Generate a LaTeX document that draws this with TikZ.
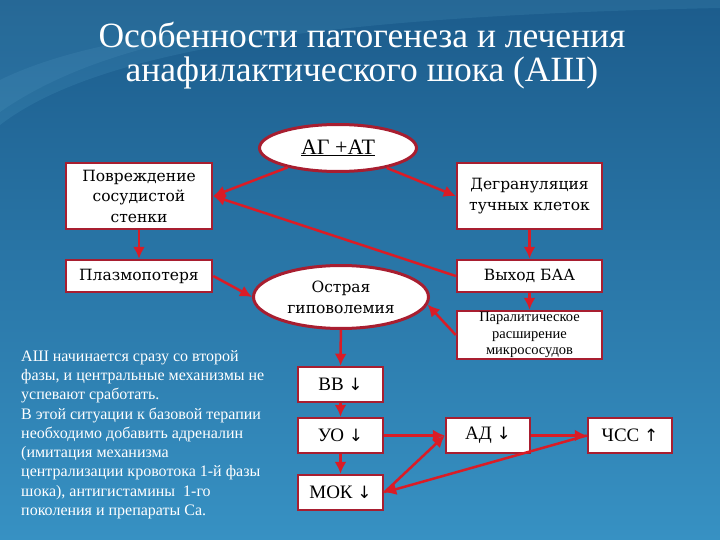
\documentclass[tikz,border=0pt]{standalone}
\usepackage{fontspec}
\setmainfont{Liberation Serif}
\newfontfamily\boxfont{DejaVu Serif}
\newfontfamily\arrowfont{DejaVu Sans}
\usetikzlibrary{shapes,arrows.meta,positioning}
\definecolor{slidetop}{RGB}{28,92,140}
\definecolor{slidebottom}{RGB}{55,145,195}
\definecolor{framered}{RGB}{168,30,48}
\definecolor{arrowred}{RGB}{218,28,38}

\begin{document}
\begin{tikzpicture}[x=1pt,y=-1pt,
	box/.style={draw=framered, line width=2.5pt, fill=white, rectangle, inner sep=1pt, align=center, font=\boxfont\fontsize{15.5}{20.5}\selectfont},
	oval/.style={draw=framered, line width=3pt, fill=white, ellipse, inner sep=0pt, align=center, font=\boxfont\fontsize{15.5}{21}\selectfont},
	link/.style={draw=arrowred, line width=2.5pt, -{Latex[length=12pt,width=12pt]}}]
	% Background
	\shade[top color=slidetop, bottom color=slidebottom] (0,0) rectangle (720,540);
	\fill[cyan!50!white, opacity=0.10] (0,125) .. controls (110,40) and (380,15) .. (720,8) -- (720,0) -- (0,0) -- cycle;
	\fill[cyan!40!white, opacity=0.08] (0,112) .. controls (60,70) and (140,45) .. (230,30) .. controls (120,35) and (40,60) .. (0,80) -- cycle;
	
	% Title
	\node[text=white, font=\fontsize{35.5}{40}\selectfont] (title1) at (362,35) {Особенности патогенеза и лечения};
	\node[text=white, font=\fontsize{35.5}{40}\selectfont] (title2) at (362,73) {анафилактического шока (АШ)};
	
	% Upper part
	\node[oval, minimum width=157, minimum height=47, font=\fontsize{22}{26}\selectfont] (agat) at (338,148) {\underline{АГ +АТ}};
	\node[box, minimum width=146, minimum height=66] (damage) at (139,196) {Повреждение\\сосудистой\\стенки};
	\node[box, minimum width=145, minimum height=66] (degran) at (529.5,196) {Дегрануляция\\тучных клеток};
	\node[box, minimum width=146, minimum height=32] (plasma) at (139,276) {Плазмопотеря};
	\node[box, minimum width=145, minimum height=32] (baa) at (529.5,276) {Выход БАА};
	\node[oval, minimum width=175, minimum height=63] (hypo) at (341,297) {Острая\\гиповолемия};
	\node[box, minimum width=145, minimum height=48, font=\fontsize{14.5}{16.5}\selectfont] (paral) at (529.5,335) {Паралитическое\\расширение\\микрососудов};
	
	% Lower part
	\node[box, minimum width=85, minimum height=35, font=\fontsize{19}{22}\selectfont] (vv) at (340.5,384.5) {ВВ {\arrowfont\fontsize{17}{20}\selectfont ↓}};
	\node[box, minimum width=85, minimum height=35, font=\fontsize{19}{22}\selectfont] (uo) at (340.5,435.5) {УО {\arrowfont\fontsize{17}{20}\selectfont ↓}};
	\node[box, minimum width=85, minimum height=35, font=\fontsize{19}{22}\selectfont] (mok) at (340.5,492.5) {МОК {\arrowfont\fontsize{17}{20}\selectfont ↓}};
	\node[box, minimum width=84, minimum height=35, font=\fontsize{19}{22}\selectfont] (ad) at (488,435.5) {АД {\arrowfont\fontsize{17}{20}\selectfont ↓}};
	\node[box, minimum width=84, minimum height=35, font=\fontsize{19}{22}\selectfont] (chss) at (630,435.5) {ЧСС {\arrowfont\fontsize{17}{20}\selectfont ↑}};
	
	% Note
	\node[anchor=north west, text=white, align=left, inner sep=0pt, font=\fontsize{16}{19.3}\selectfont] (note) at (21,350) {АШ начинается сразу со второй\\фазы, и центральные механизмы не\\успевают сработать.\\В этой ситуации к базовой терапии\\необходимо добавить адреналин\\(имитация механизма\\централизации кровотока 1-й фазы\\шока), антигистамины~~1-го\\поколения и препараты Са.};
	
	% Connections
	\draw[link] (agat) -- (damage.east);
	\draw[link] (agat) -- (degran.west);
	\draw[link] (baa.west) -- (damage.east);
	\draw[link] (damage) -- (plasma);
	\draw[link] (degran) -- (baa);
	\draw[link] (baa) -- (paral);
	\draw[link] (plasma.east) -- (hypo.west);
	\draw[link] (paral.west) -- (hypo.-5);
	\draw[link] (hypo) -- (vv);
	\draw[link] (vv) -- (uo);
	\draw[link] (uo) -- (mok);
	\draw[link] (uo) -- (ad);
	\draw[link] (mok.east) -- (ad.west);
	\draw[link] (ad) -- (chss);
	\draw[link] (chss.west) -- (mok.east);
\end{tikzpicture}
\end{document}
